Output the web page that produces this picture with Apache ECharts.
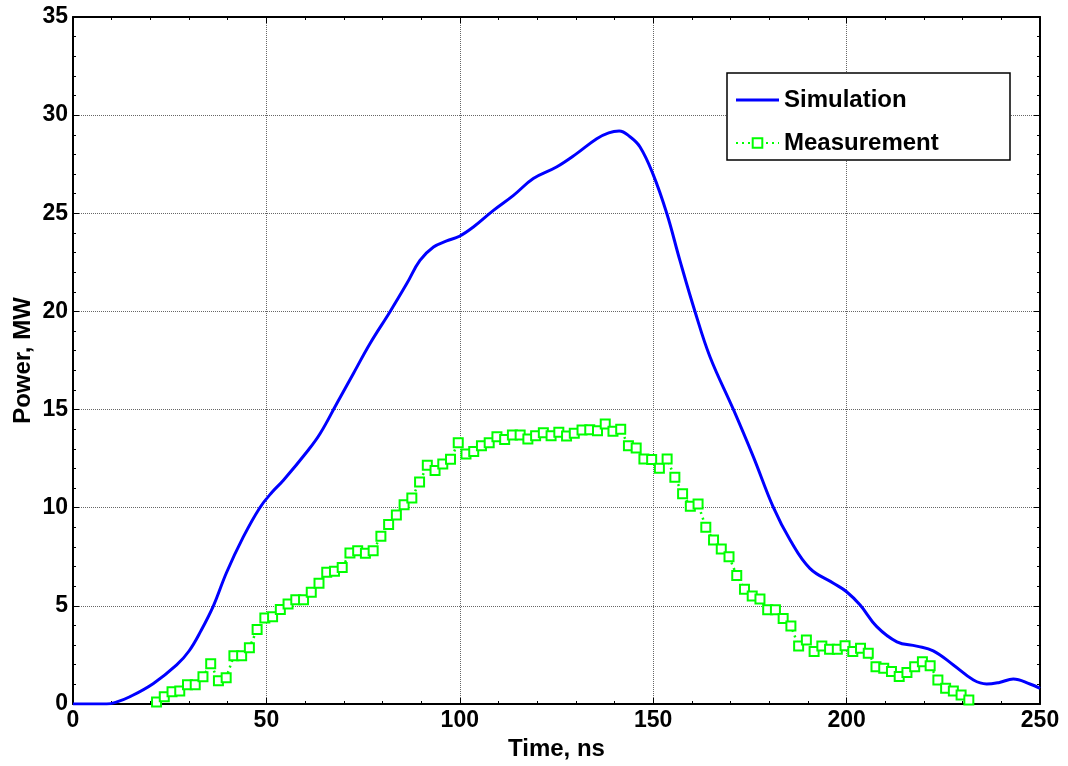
<!DOCTYPE html>
<html>
<head>
<meta charset="utf-8">
<script src="https://cdn.jsdelivr.net/npm/echarts@6/dist/echarts.min.js"></script>
<style>
  html, body { margin: 0; padding: 0; background: #fff; }
  #chart { width: 1068px; height: 766px; }
</style>
</head>
<body>
<div id="chart"></div>
<script>
// simulation curve
const simTime = [0, 5, 8.7, 11, 14.7, 20.8, 26.8, 30, 33, 36.3, 39.7, 44, 48.3, 51.5, 54.4, 60.8, 63.9, 68.2, 72.5, 76.8, 82, 86.3,
  89.7, 93.2, 96.6, 99.9, 103.5, 108.7, 113.8, 119, 125, 130.2, 135.4, 138.5, 141.2, 144, 146.6, 149.9, 153.5, 156.9, 160.8, 164.7,
  170.7, 175.9, 181.1, 185.4, 190.5, 196.6, 200, 203.5, 207.8, 213, 218.1, 222.4, 227.6, 232.8, 236.2, 239.5, 243.1, 247.4, 250];
const simPower = [0, 0, 0, 0.08, 0.37, 1.05, 1.99, 2.7, 3.7, 5.0, 6.7, 8.5, 10.0, 10.8, 11.4, 12.93, 13.78, 15.31, 16.84, 18.37, 20.0, 21.42,
  22.6, 23.28, 23.59, 23.83, 24.3, 25.15, 25.9, 26.77, 27.36, 28.04, 28.8, 29.1, 29.19, 28.9, 28.38, 27.02, 25.0, 22.6, 20.0, 17.68,
  15.02, 12.59, 10.0, 8.35, 6.91, 6.15, 5.72, 5.04, 3.94, 3.17, 2.95, 2.71, 1.99, 1.22, 1.02, 1.1, 1.27, 1.02, 0.8];

// measured points
const measTime = [21.6, 23.6, 25.6, 27.6, 29.6, 31.6, 33.6, 35.6, 37.6, 39.6,
  41.6, 43.6, 45.6, 47.6, 49.6, 51.6, 53.6, 55.6, 57.6, 59.6,
  61.6, 63.6, 65.6, 67.6, 69.6, 71.6, 73.6, 75.6, 77.6, 79.6,
  81.6, 83.6, 85.6, 87.6, 89.6, 91.6, 93.6, 95.6, 97.6, 99.6,
  101.6, 103.6, 105.6, 107.6, 109.6, 111.6, 113.6, 115.6, 117.6, 119.6,
  121.6, 123.6, 125.6, 127.6, 129.6, 131.6, 133.6, 135.6, 137.6, 139.6,
  141.6, 143.6, 145.6, 147.6, 149.6, 151.6, 153.6, 155.6, 157.6, 159.6,
  161.6, 163.6, 165.6, 167.6, 169.6, 171.6, 173.6, 175.6, 177.6, 179.6,
  181.6, 183.6, 185.6, 187.6, 189.6, 191.6, 193.6, 195.6, 197.6, 199.6,
  201.6, 203.6, 205.6, 207.6, 209.6, 211.6, 213.6, 215.6, 217.6, 219.6,
  221.6, 223.6, 225.6, 227.6, 229.6, 231.6];
const measPower = [0.1, 0.37, 0.63, 0.66, 0.98, 0.98, 1.39, 2.05, 1.19, 1.34,
  2.46, 2.46, 2.87, 3.8, 4.38, 4.45, 4.82, 5.09, 5.31, 5.31,
  5.69, 6.15, 6.71, 6.76, 6.96, 7.69, 7.81, 7.68, 7.81, 8.54,
  9.15, 9.63, 10.15, 10.49, 11.31, 12.16, 11.89, 12.23, 12.47, 13.31,
  12.74, 12.87, 13.16, 13.31, 13.62, 13.48, 13.7, 13.7, 13.5, 13.67,
  13.82, 13.67, 13.84, 13.65, 13.8, 13.96, 13.97, 13.92, 14.26, 13.89,
  14.0, 13.16, 13.04, 12.48, 12.45, 12.01, 12.48, 11.55, 10.71, 10.07,
  10.19, 9.0, 8.35, 7.9, 7.5, 6.55, 5.84, 5.5, 5.35, 4.8,
  4.8, 4.36, 3.97, 2.95, 3.26, 2.67, 2.95, 2.79, 2.79, 2.97,
  2.67, 2.84, 2.58, 1.9, 1.82, 1.66, 1.4, 1.6, 1.9, 2.15,
  1.95, 1.22, 0.8, 0.66, 0.46, 0.2];

const seriesNames = ['Simulation', 'Measurement'];

const font = 'Liberation Sans, Arial, sans-serif';
const zip = (xs, ys) => xs.map((x, i) => [x, ys[i]]);

const chart = echarts.init(document.getElementById('chart'), null, { renderer: 'canvas' });

const tickCommon = {
  axisTick: { show: true, inside: true, length: 6, lineStyle: { color: '#000', width: 1 } },
  minorTick: { show: true, splitNumber: 5, length: 3, lineStyle: { color: '#000', width: 1 } },
  axisLine: { show: true, onZero: false, lineStyle: { color: '#000', width: 2 } }
};
const nameStyle = { fontFamily: font, fontWeight: 'bold', fontSize: 24, color: '#000' };
const labelStyle = { fontFamily: font, fontWeight: 'bold', fontSize: 23, color: '#000', margin: 5 };

chart.setOption({
  animation: false,
  backgroundColor: '#fff',
  grid: { left: 73, right: 28, top: 17, bottom: 62, containLabel: false, outerBoundsMode: 'none' },
  graphic: [{
    type: 'rect', z: 3,
    shape: { x: 727, y: 73, width: 283, height: 87 },
    style: { fill: '#fff', stroke: '#000', lineWidth: 1.5 }
  }],
  legend: {
    data: [
      { name: seriesNames[0], icon: 'path://M0,0 L44,0 L44,3 L0,3 Z' },
      { name: seriesNames[1] }
    ],
    orient: 'vertical',
    left: 730, top: 83,
    itemWidth: 43, itemHeight: 12, itemGap: 19,
    z: 5,
    textStyle: { fontFamily: font, fontWeight: 'bold', fontSize: 24, color: '#000' }
  },
  xAxis: [{
    type: 'value', min: 0, max: 250, interval: 50,
    name: 'Time, ns', nameLocation: 'middle', nameGap: 32,
    nameTextStyle: nameStyle,
    axisLabel: labelStyle,
    splitLine: { show: true, lineStyle: { color: '#666', type: [1, 1], width: 1 } },
    ...tickCommon
  }, {
    type: 'value', min: 0, max: 250, interval: 50, position: 'top',
    axisLabel: { show: false }, splitLine: { show: false },
    ...tickCommon
  }],
  yAxis: [{
    type: 'value', min: 0, max: 35, interval: 5,
    name: 'Power, MW', nameLocation: 'middle', nameGap: 38, nameMoveOverlap: false,
    nameTextStyle: nameStyle,
    axisLabel: labelStyle,
    splitLine: { show: true, lineStyle: { color: '#666', type: [1, 1], width: 1 } },
    ...tickCommon
  }, {
    type: 'value', min: 0, max: 35, interval: 5, position: 'right',
    axisLabel: { show: false }, splitLine: { show: false },
    ...tickCommon
  }],
  series: [{
    name: seriesNames[0],
    type: 'line',
    data: zip(simTime, simPower),
    smooth: 0.4,
    showSymbol: false,
    symbol: 'none',
    color: '#0000ff',
    lineStyle: { color: '#0000ff', width: 3 },
    z: 2
  }, {
    name: seriesNames[1],
    type: 'line',
    data: zip(measTime, measPower),
    symbol: 'emptyRect',
    symbolSize: 9,
    color: '#00ff00',
    itemStyle: { color: '#00ff00', borderColor: '#00ff00', borderWidth: 2.5 },
    lineStyle: { color: '#00ff00', width: 2.5, type: [2, 4] },
    z: 3
  }]
});
</script>
</body>
</html>
